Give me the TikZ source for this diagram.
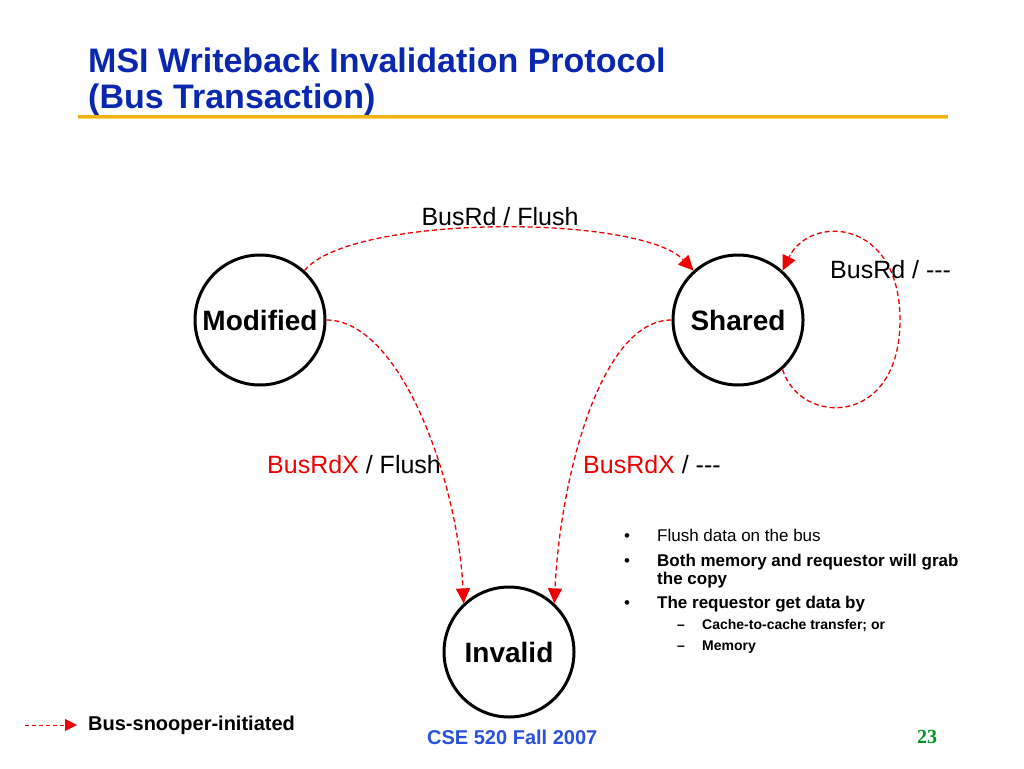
\documentclass[tikz,border=0pt]{standalone}
\usepackage{fontspec}
\setmainfont{Liberation Sans}
\newfontfamily\pagenumfont{Liberation Serif}
\usetikzlibrary{arrows.meta}

\definecolor{titleblue}{RGB}{10,40,175}
\definecolor{rulegold}{RGB}{240,178,20}
\definecolor{rulelight}{RGB}{250,215,110}
\definecolor{footblue}{RGB}{40,80,225}
\definecolor{pagegreen}{RGB}{0,150,30}
\definecolor{snoopred}{RGB}{240,0,0}

\begin{document}
\begin{tikzpicture}[x=1pt,y=-1pt,
	state/.style={circle, draw, line width=3pt, minimum size=130pt, inner sep=0pt, font=\fontsize{28}{32}\selectfont\bfseries},
	snoop/.style={snoopred, line width=1.3pt, dash pattern=on 5pt off 3pt, -{Triangle[length=15pt,width=14pt]}},
	trans/.style={font=\fontsize{25}{30}\selectfont, inner sep=0pt},
	bullet/.style={anchor=base west, inner sep=0pt, font=\fontsize{17}{20}\selectfont},
	subbullet/.style={anchor=base west, inner sep=0pt, font=\fontsize{14}{17}\selectfont\bfseries}]
	% page size
	\useasboundingbox (0,0) rectangle (1024,768);

	% title and rule
	\node[anchor=base west, inner sep=0pt, titleblue, font=\fontsize{34}{40}\selectfont\bfseries] (title1) at (88,72) {MSI Writeback Invalidation Protocol};
	\node[anchor=base west, inner sep=0pt, titleblue, font=\fontsize{34}{40}\selectfont\bfseries] (title2) at (88,108) {(Bus Transaction)};
	\draw[rulegold, line width=3pt] (78,116) -- (948,116);
	\draw[rulelight, line width=1pt] (78,118.5) -- (948,118.5);

	% states
	\node[state] (mod) at (260,320) {Modified};
	\node[state] (sh) at (738,320) {Shared};
	\node[state] (inv) at (509,652) {Invalid};

	% bus transactions
	\draw[snoop] (mod.48) .. controls (350,214) and (640,214) .. (sh.132);
	\draw[snoop] (sh.-48) .. controls (800,426) and (900,428) .. (900,320) .. controls (900,218) and (810,214) .. (sh.48);
	\draw[snoop] (mod.east) .. controls (400,320) and (458,480) .. (inv.133);
	\draw[snoop] (sh.west) .. controls (600,320) and (560,480) .. (inv.47);

	% labels
	\node[trans] (rdflush) at (500,217) {BusRd / Flush};
	\node[trans, anchor=west] (rdnone) at (830,270) {BusRd / {-}{-}{-}};
	\node[trans, anchor=west] (rdxflush) at (267,465) {\textcolor{snoopred}{BusRdX} / Flush};
	\node[trans, anchor=west] (rdxnone) at (583,465) {\textcolor{snoopred}{BusRdX} / {-}{-}{-}};

	% notes
	\node[bullet] (b1) at (624,541) {•};
	\node[bullet] (n1) at (657,541) {Flush data on the bus};
	\node[bullet] (b2) at (624,566) {•};
	\node[bullet, font=\fontsize{17}{20}\selectfont\bfseries] (n2) at (657,566) {Both memory and requestor will grab};
	\node[bullet, font=\fontsize{17}{20}\selectfont\bfseries] (n2b) at (657,584) {the copy};
	\node[bullet] (b3) at (624,608) {•};
	\node[bullet, font=\fontsize{17}{20}\selectfont\bfseries] (n3) at (657,608) {The requestor get data by};
	\node[subbullet] (d1) at (677,629) {–};
	\node[subbullet] (s1) at (702,629) {Cache-to-cache transfer; or};
	\node[subbullet] (d2) at (677,650) {–};
	\node[subbullet] (s2) at (702,650) {Memory};

	% legend and footer
	\coordinate (legstart) at (25,725);
	\coordinate (legend) at (77,725);
	\draw[snoop, line width=1pt, dash pattern=on 4pt off 3pt, -{Triangle[length=12pt,width=12pt]}] (legstart) -- (legend);
	\node[anchor=west, inner sep=0pt, font=\fontsize{20}{24}\selectfont\bfseries] (legtxt) at (88,725) {Bus-snooper-initiated};
	\node[anchor=west, inner sep=0pt, footblue, font=\fontsize{20}{24}\selectfont\bfseries] (course) at (427,737) {CSE 520 Fall 2007};
	\node[anchor=west, inner sep=0pt, pagegreen, font=\pagenumfont\fontsize{20}{24}\selectfont\bfseries] (pagenum) at (917,737) {23};
\end{tikzpicture}
\end{document}
